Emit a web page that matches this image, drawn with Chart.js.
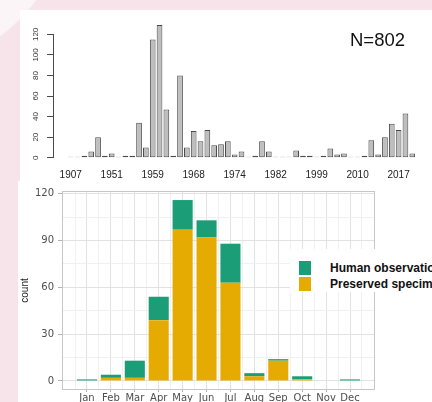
<!DOCTYPE html>
<html>
<head>
<meta charset="utf-8">
<title>Records by year and month</title>
<script src="https://cdn.jsdelivr.net/npm/chart.js@4.4.1/dist/chart.umd.min.js"></script>
<style>
  html, body { margin: 0; padding: 0; }
  body {
    width: 432px; height: 402px; overflow: hidden; position: relative;
    background: radial-gradient(circle at -100px -100px, #fcf5f8 0, #fcf5f8 168px, #f6e4ea 170px);
    font-family: 'Liberation Sans', Arial, sans-serif;
  }
  #top { position: absolute; left: 20px; top: 10px; width: 412px; height: 172px; background: #fff; }
  #bottom { position: absolute; left: 18px; top: 181px; width: 414px; height: 221px; background: #fff; }
  #n-label { position: absolute; left: 330px; top: 21px; font-size: 18.5px; line-height: 1; color: #111; }
  #legend {
    position: absolute; left: 290px; top: 249px; width: 160px; height: 43px;
    background: #fff; padding-top: 11px; padding-left: 9px; box-sizing: border-box;
  }
  .row { display: flex; align-items: center; height: 16px; white-space: nowrap; }
  .key { width: 12px; height: 14px; flex: none; }
  .txt { margin-left: 19px; font-weight: bold; font-size: 12px; color: #111; }
</style>
</head>
<body>
<div id="top">
  <canvas id="yearChart" width="412" height="172"></canvas>
  <div id="n-label">N=802</div>
</div>
<div id="bottom">
  <canvas id="monthChart" width="414" height="221"></canvas>
</div>
<div id="legend"></div>

<script>
// ── Data ──────────────────────────────────────────────
const years = [
  1907, 1925, 1932, 1938, 1945, 1948, 1951, 1952, 1953, 1955, 1956, 1957,
  1959, 1960, 1961, 1962, 1964, 1966, 1968, 1969, 1970, 1971, 1972, 1973,
  1974, 1975, 1976, 1978, 1979, 1980, 1982, 1984, 1987, 1990, 1993, 1996,
  1999, 2001, 2003, 2005, 2007, 2008, 2010, 2011, 2012, 2013, 2014, 2015,
  2017, 2018, 2019,
];
const yearCounts = [
  1, 1, 2, 6, 20, 2, 4, 1, 2, 2, 34, 10,
  115, 129, 47, 2, 80, 10, 26, 16, 27, 12, 13, 16,
  3, 6, 1, 2, 16, 6, 1, 1, 1, 7, 2, 2,
  1, 2, 9, 3, 4, 1, 1, 2, 17, 3, 20, 33,
  27, 43, 4,
];
const yearTicks = [0, 20, 40, 60, 80, 100, 120];
const yearLabelEvery = 6;

const months = ['Jan', 'Feb', 'Mar', 'Apr', 'May', 'Jun', 'Jul', 'Aug', 'Sep', 'Oct', 'Nov', 'Dec'];
const preserved = [0, 2, 2, 39, 97, 92, 63, 3, 13, 1, 0, 0];
const human = [1, 2, 11, 15, 19, 11, 25, 2, 1, 2, 0, 1];
const countTicks = [0, 30, 60, 90, 120];

const seriesNames = ['Human observation', 'Preserved specimen'];
const seriesColors = ['#1B9E77', '#E6AB02'];

Chart.defaults.font.family = "'Liberation Sans', Arial, sans-serif";

// horizontal axes reserve room for their end labels; we don't want that here
function noSidePadding(s) {
  s.paddingLeft = 0;
  s.paddingRight = 0;
}

// ── Top: records per year (R barplot look) ────────────
const axisLinePlugin = {
  id: 'axisLine',
  afterDraw(chart) {
    const { ctx, chartArea, scales: { y } } = chart;
    ctx.save();
    ctx.strokeStyle = '#4a4a4a';
    ctx.lineWidth = 1;
    ctx.beginPath();
    ctx.moveTo(chartArea.left - 0.5, y.getPixelForValue(yearTicks[0]));
    ctx.lineTo(chartArea.left - 0.5, y.getPixelForValue(yearTicks[yearTicks.length - 1]));
    ctx.stroke();
    ctx.restore();
  },
};

new Chart(document.getElementById('yearChart'), {
  type: 'bar',
  data: {
    datasets: [{
      label: 'Records',
      data: yearCounts.map((v, i) => ({ x: i, y: v })),
      backgroundColor: '#bebebe',
      borderColor: '#4a4a4a',
      borderWidth: 1,
      borderSkipped: false,
      barPercentage: 1 / 1.2,
      categoryPercentage: 1,
    }],
  },
  options: {
    responsive: false,
    animation: false,
    devicePixelRatio: 1,
    layout: { padding: { top: 6, right: 3, left: 0, bottom: 0 } },
    plugins: { legend: { display: false }, tooltip: { enabled: false } },
    scales: {
      x: {
        type: 'linear',
        offset: false,
        min: -2.45,
        max: years.length + 1.45,
        bounds: 'data',
        grid: { display: false, drawTicks: false },
        border: { display: false },
        afterBuildTicks: s => {
          s.ticks = years.map((_, i) => i).filter(i => i % yearLabelEvery === 0).map(v => ({ value: v }));
        },
        afterFit: s => { s.height = 19; noSidePadding(s); },
        ticks: {
          autoSkip: false, maxRotation: 0, padding: 6, color: '#222',
          font: { size: 10 },
          callback: v => years[v],
        },
      },
      y: {
        min: -5.16,
        max: 134.16,
        grid: { drawOnChartArea: false, tickLength: 7, color: '#4a4a4a' },
        border: { display: false },
        afterBuildTicks: s => { s.ticks = yearTicks.map(v => ({ value: v })); },
        afterFit: s => { s.width = 34; },
        ticks: {
          minRotation: 90, maxRotation: 90, crossAlign: 'center', padding: 5,
          color: '#333', font: { size: 8 },
        },
      },
    },
  },
  plugins: [axisLinePlugin],
});

// ── Bottom: records per month, stacked (ggplot look) ──
const panelBorderPlugin = {
  id: 'panelBorder',
  afterDatasetsDraw(chart) {
    const { ctx, chartArea: a } = chart;
    ctx.save();
    ctx.strokeStyle = '#c6c6c6';
    ctx.lineWidth = 1;
    ctx.strokeRect(a.left + 0.5, a.top + 0.5, a.right - a.left - 1, a.bottom - a.top - 1);
    ctx.restore();
  },
};

const isMajorMonth = c => !c.tick || Number.isInteger(c.tick.value);
const isMajorCount = c => !c.tick || countTicks.includes(c.tick.value);

new Chart(document.getElementById('monthChart'), {
  type: 'bar',
  data: {
    datasets: [
      {
        label: seriesNames[1],
        data: preserved.map((v, i) => ({ x: i + 1, y: v })),
        backgroundColor: seriesColors[1],
      },
      {
        label: seriesNames[0],
        data: human.map((v, i) => ({ x: i + 1, y: v })),
        backgroundColor: seriesColors[0],
      },
    ],
  },
  options: {
    responsive: false,
    animation: false,
    devicePixelRatio: 1,
    datasets: { bar: { barPercentage: 1.68, categoryPercentage: 1, borderWidth: 0 } },
    layout: { padding: { top: 6, right: 57, left: 0, bottom: 0 } },
    plugins: { legend: { display: false }, tooltip: { enabled: false } },
    scales: {
      x: {
        type: 'linear',
        offset: false,
        stacked: true,
        min: -0.045,
        max: months.length + 1.045,
        bounds: 'data',
        border: { display: false },
        grid: {
          offset: false,
          tickLength: 2,
          color: c => isMajorMonth(c) ? '#e2e2e2' : '#f0f0f0',
          tickColor: c => isMajorMonth(c) ? '#b3b3b3' : 'rgba(0,0,0,0)',
        },
        afterBuildTicks: s => {
          s.ticks = months.flatMap((_, i) => [i + 0.5, i + 1])
            .concat(months.length + 0.5)
            .map(v => ({ value: v }));
        },
        afterFit: s => { s.height = 12; noSidePadding(s); },
        ticks: {
          autoSkip: false, maxRotation: 0, padding: 0, color: '#4d4d4d',
          font: { size: 10, family: "'DejaVu Sans', sans-serif" },
          callback: v => Number.isInteger(v) ? months[v - 1] : '',
        },
      },
      y: {
        stacked: true,
        min: -5.8,
        max: 121.8,
        border: { display: false },
        grid: {
          tickLength: 4,
          color: c => isMajorCount(c) ? '#e2e2e2' : '#f0f0f0',
          tickColor: c => isMajorCount(c) ? '#b3b3b3' : 'rgba(0,0,0,0)',
        },
        afterBuildTicks: s => {
          const t = [];
          countTicks.forEach((v, i) => {
            t.push(v);
            if (i < countTicks.length - 1) t.push((v + countTicks[i + 1]) / 2);
          });
          s.ticks = t.map(v => ({ value: v }));
        },
        afterFit: s => { s.width = 44; },
        title: {
          display: true, text: 'count', color: '#1a1a1a',
          font: { size: 10, family: "'Liberation Sans Narrow', 'Liberation Sans', sans-serif" },
          padding: { top: 1, bottom: 0 },
        },
        ticks: {
          padding: 4, color: '#4d4d4d',
          font: { size: 10, family: "'DejaVu Sans', sans-serif" },
          callback: v => countTicks.includes(v) ? v : '',
        },
      },
    },
  },
  plugins: [panelBorderPlugin],
});

// ── Legend (overlaid on the panel) ────────────────────
const legendEl = document.getElementById('legend');
seriesNames.forEach((name, i) => {
  const row = document.createElement('div');
  row.className = 'row';
  row.innerHTML = `<span class="key" style="background:${seriesColors[i]}"></span><span class="txt">${name}</span>`;
  legendEl.appendChild(row);
});
</script>
</body>
</html>
